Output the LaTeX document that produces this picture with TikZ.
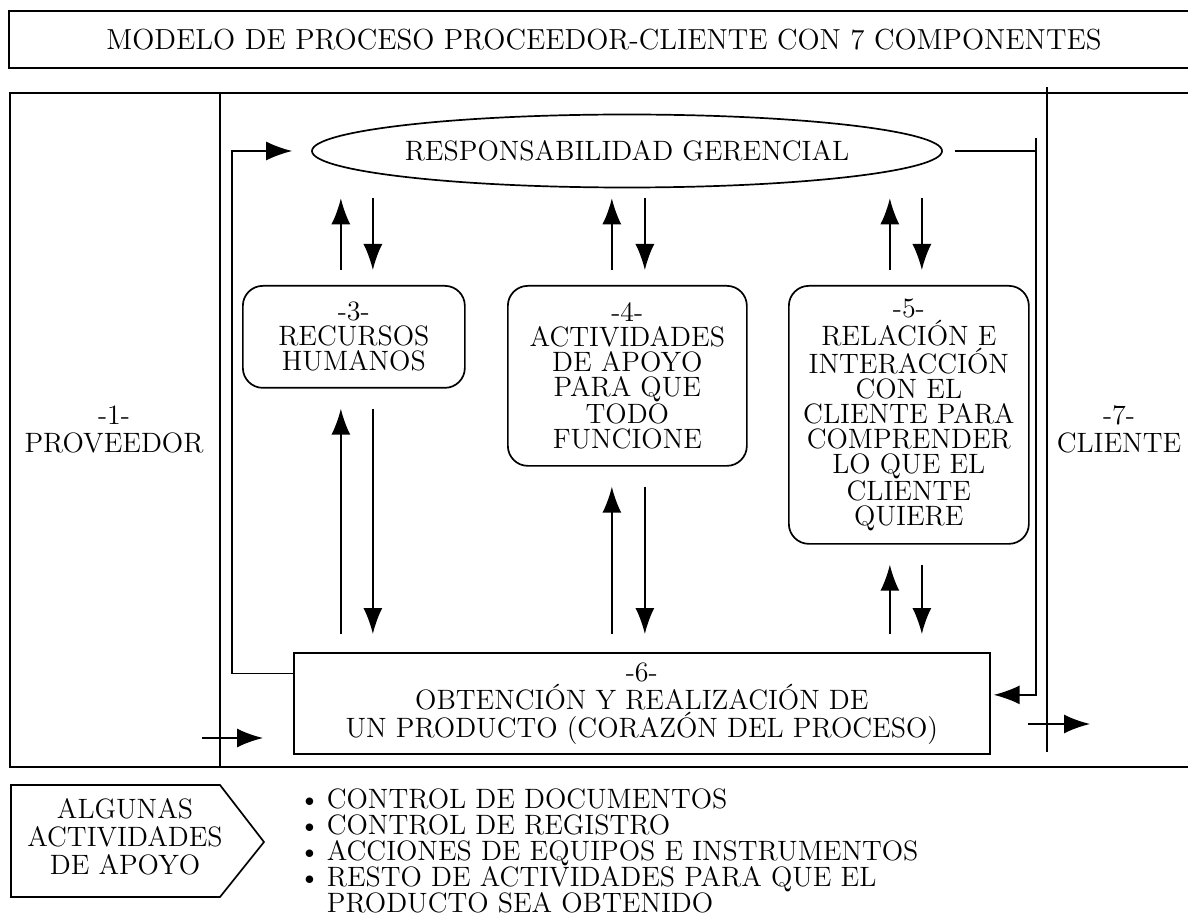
\documentclass[tikz,border=0pt]{standalone}
\usepackage{fontspec}
\usepackage{tikz}
\usetikzlibrary{shapes.geometric, arrows.meta, positioning, calc}
\newcommand{\punto}{\makebox[14pt][l]{\textbullet}}

\begin{document}
\begin{tikzpicture}[
    x=0.5pt, y=-0.5pt,
    line width=0.85pt,
    txt/.style={font=\fontsize{14}{14}\selectfont, align=center, inner sep=0pt},
    comp/.style={draw, rounded corners=10pt, align=center, inner sep=0pt,
                 font=\fontsize{14}{12.5}\selectfont, anchor=north west},
    arr/.style={-{Latex[length=13pt, width=9.5pt]}}
]
    \useasboundingbox (0,0) rectangle (1188,919);
    % marcos
    \draw (9,11) rectangle (1200,68);
    \draw (10,93) rectangle (1200,767);
    \draw (220,93) -- (220,767);
    \draw (1047,87) -- (1047,752);

    \node[txt, font=\fontsize{14.5}{14}\selectfont] (title) at (604,40)
        {MODELO DE PROCESO PROCEEDOR-CLIENTE CON 7 COMPONENTES};
    \node[txt] (prov) at (114,429) {-1-\\PROVEEDOR};
    \node[txt] (cli) at (1119,429) {-7-\\CLIENTE};

    \node[draw, ellipse, minimum width=315pt, minimum height=36.5pt, inner sep=0pt,
          font=\fontsize{14}{12.5}\selectfont] (resp) at (627,151) {RESPONSABILIDAD GERENCIAL};
    \node[comp, minimum width=111pt, minimum height=51pt] (box3) at (242,285)
        {-3-\\RECURSOS\\HUMANOS};
    \node[comp, minimum width=119.5pt, minimum height=90pt] (box4) at (507,285)
        {-4-\\ACTIVIDADES\\DE APOYO\\PARA QUE\\TODO\\FUNCIONE};
    \node[comp, minimum width=120pt, minimum height=129pt] (box5) at (788,285)
        {-5-\\RELACIÓN E\\INTERACCIÓN\\CON EL\\CLIENTE PARA\\COMPRENDER\\LO QUE EL\\CLIENTE\\QUIERE};
    \node[comp, rounded corners=0pt, minimum width=348pt, minimum height=50.5pt] (box6) at (293,652)
        {-6-\\OBTENCIÓN Y REALIZACIÓN DE\\UN PRODUCTO (CORAZÓN DEL PROCESO)};

    % flechas entre gerencia, componentes y obtencion
    \foreach \bx/\ua/\ub in {box3/-6.5pt/9.5pt, box4/-7.75pt/8.75pt, box5/-9.5pt/6.5pt} {
        \draw[arr] ($(\bx.north)+(\ua,7.5pt)$) -- ($(\bx.north |- resp.south)+(\ua,-5pt)$);
        \draw[arr] ($(\bx.north |- resp.south)+(\ub,-5pt)$) -- ($(\bx.north)+(\ub,7.5pt)$);
        \draw[arr] ($(\bx.south |- box6.north)+(\ua,9pt)$) -- ($(\bx.south)+(\ua,-10pt)$);
        \draw[arr] ($(\bx.south)+(\ub,-10pt)$) -- ($(\bx.south |- box6.north)+(\ub,9pt)$);
    }

    % retroalimentacion
    \coordinate (lft) at (232,151);
    \coordinate (rgt) at (1036,138);
    \draw[arr] ($(box6.west)+(0,15pt)$) -| (lft) -- ($(resp.west)+(-9.5pt,0)$);
    \draw ($(resp.east)+(6pt,0)$) -- (rgt |- resp.east);
    \draw[arr] (rgt) |- ($(box6.east)+(1.5pt,4.25pt)$);

    % entrada y salida
    \coordinate (in) at (202,738);
    \coordinate (out) at (1028,724);
    \draw[arr] (in) -- ++(30.5pt,0);
    \draw[arr] (out) -- ++(31pt,0);

    % actividades de apoyo
    \draw (11,785) -- (220,785) -- (264,842) -- (220,897) -- (11,897) -- cycle;
    \node[txt] (apoyo) at (125,837) {ALGUNAS\\ACTIVIDADES\\DE APOYO};
    \node[anchor=west, align=left, inner sep=0pt,
          font=\fontsize{14}{12.9}\selectfont] (lista) at (298,851)
        {\punto CONTROL DE DOCUMENTOS\\
         \punto CONTROL DE REGISTRO\\
         \punto ACCIONES DE EQUIPOS E INSTRUMENTOS\\
         \punto RESTO DE ACTIVIDADES PARA QUE EL\\
         \hspace*{14pt}PRODUCTO SEA OBTENIDO};
\end{tikzpicture}
\end{document}
